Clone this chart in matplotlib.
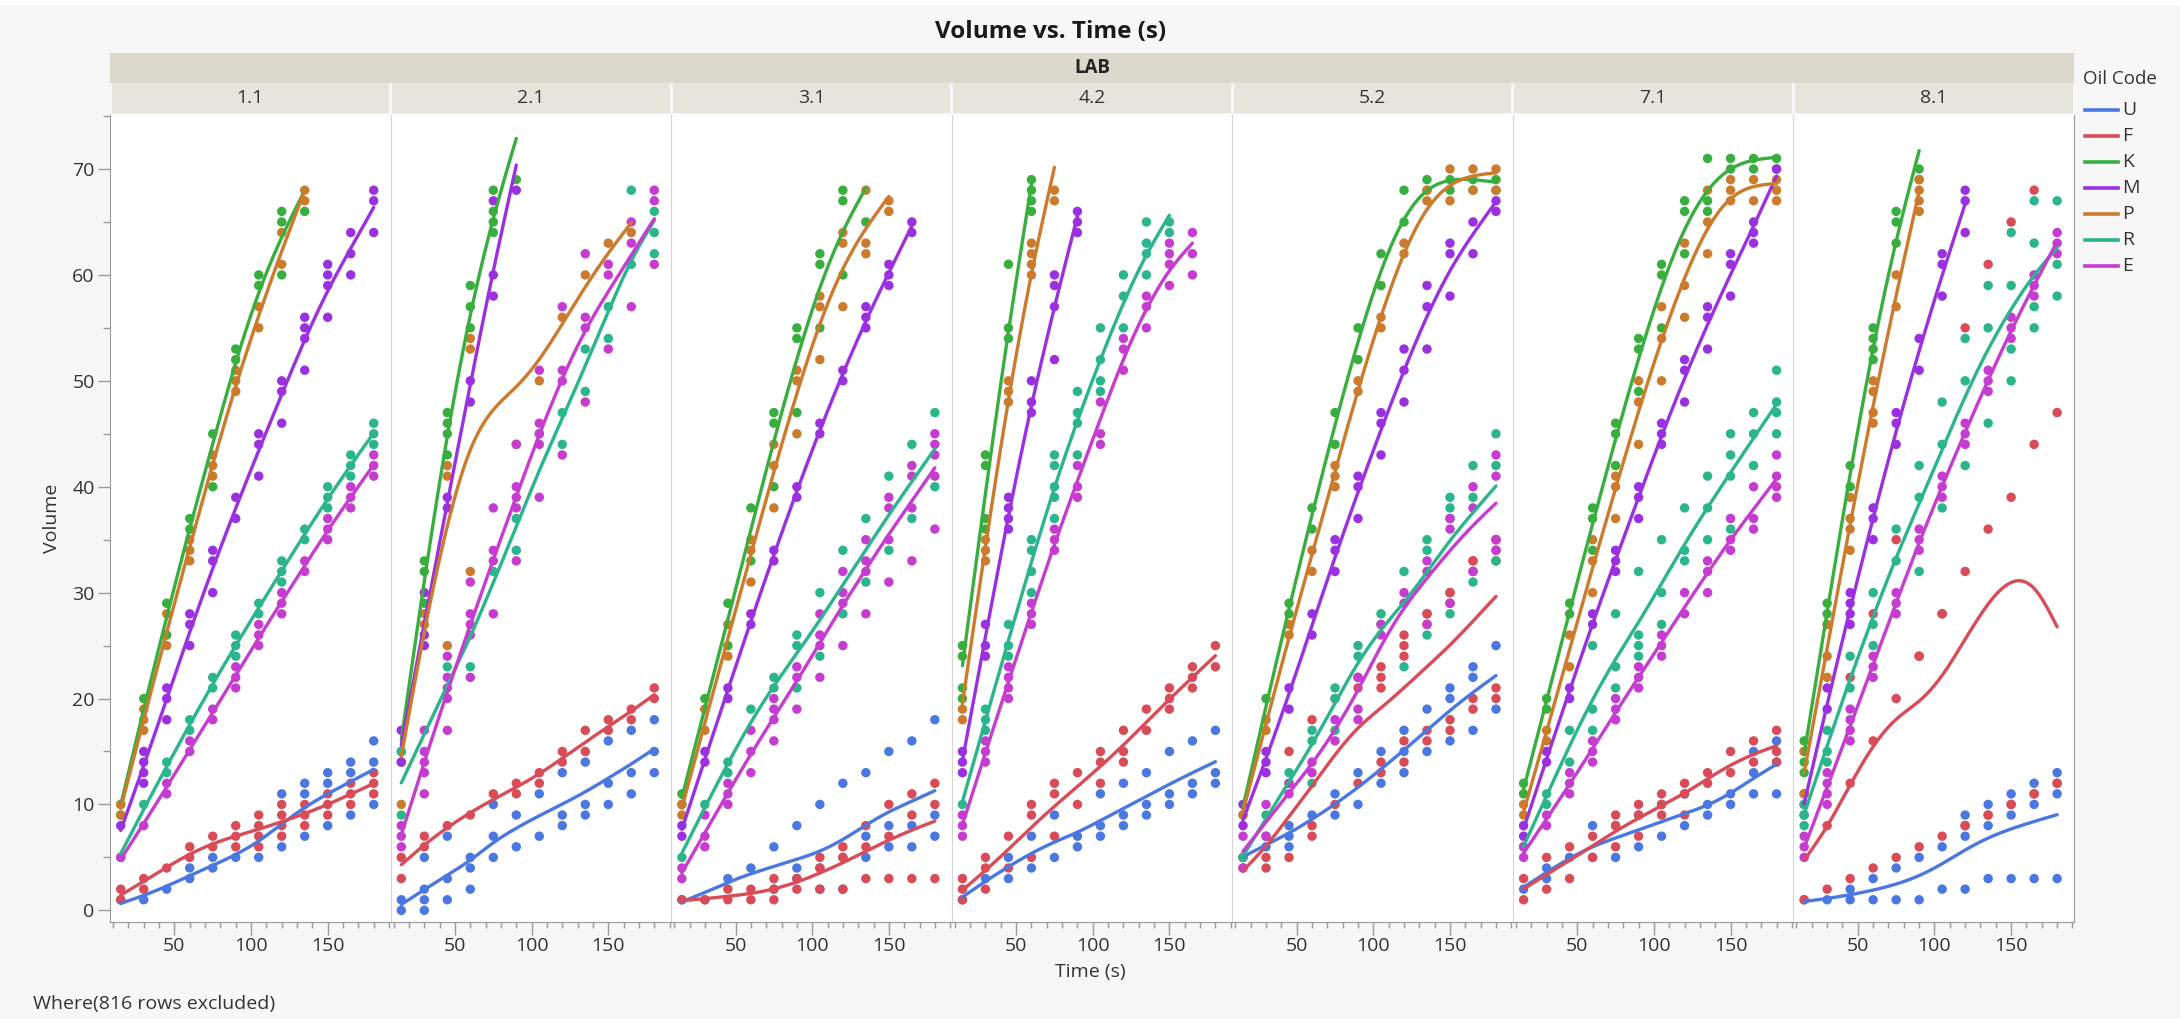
import numpy as np
import matplotlib
matplotlib.use("Agg")
import matplotlib.pyplot as plt
from matplotlib.patches import Rectangle
from matplotlib.lines import Line2D
from matplotlib.ticker import FixedLocator, MultipleLocator

plt.rcParams['font.family'] = ['Open Sans', 'DejaVu Sans']

# time points (s), one inner list of replicate volumes per time point
TIMES = [15, 30, 45, 60, 75, 90, 105, 120, 135, 150, 165, 180]
LABS = ['1.1', '2.1', '3.1', '4.2', '5.2', '7.1', '8.1']
OILS = ['U', 'F', 'K', 'M', 'P', 'R', 'E']
COLORS = ['#4a78e0', '#d94b57', '#38ae3e', '#9b30e0', '#cc7a2c', '#2ab58c', '#c63bd0']

# LAB 1.1
u_11 = [[1], [1], [2], [3, 4], [4, 5], [5], [5], [11, 6], [12, 11, 7], [13, 12, 8], [14, 13, 9], [16, 14, 10]]
f_11 = [[2, 1], [3, 2], [4], [6, 5], [7, 6], [8, 7, 6], [9, 8, 7, 6], [10, 9, 8, 7], [10, 9, 8], [11, 10, 9], [12, 11, 10], [13, 12, 11]]
k_11 = [[10, 9], [20], [29, 26], [37, 36], [45, 40], [53, 52], [60, 59], [66, 65, 60], [66]]
m_11 = [[8], [15, 14, 13, 12], [21, 20, 18], [28, 27, 25], [34, 33, 30], [39, 37], [45, 44, 41], [50, 49, 46], [56, 55, 54, 51], [61, 60, 59, 56], [64, 62, 60], [68, 67, 64]]
p_11 = [[10, 9], [19, 18, 17], [28, 25], [35, 34, 33], [43, 42, 41], [51, 50, 49], [57, 55], [64, 61], [68, 67]]
r_11 = [[5], [10], [14, 13], [18, 17], [22, 21], [26, 25, 24], [29, 28], [33, 32, 31], [36, 35], [40, 39, 38], [43, 42, 41], [46, 45, 44]]
e_11 = [[5], [8], [12, 11], [16, 15], [19, 18], [23, 22, 21], [27, 26, 25], [30, 29, 28], [33, 32], [37, 36, 35], [40, 39, 38], [43, 42, 41]]

# LAB 2.1
u_21 = [[1, 0], [5, 2, 1, 0], [7, 3, 1], [5, 4, 2], [10, 7, 5], [9, 6], [11, 7], [13, 9, 8], [14, 10, 9], [16, 12, 10], [17, 13, 11], [18, 15, 13]]
f_21 = [[5, 3], [7, 6], [8], [9], [11], [12, 11], [13, 12], [15, 14], [17, 15], [18, 17], [19, 18], [21, 20]]
k_21 = [[15, 14], [33, 32, 29], [47, 46, 45, 43], [59, 57, 55], [68, 66, 65, 64], [69]]
m_21 = [[17, 14], [30, 26, 25], [39, 38], [50, 48], [67, 60, 58], [68]]
p_21 = [[10], [28, 27], [42, 41, 25], [54, 53, 32], [], [44], [50], [56], [60], [63], [64]]
r_21 = [[15, 9], [], [23], [23], [32], [37, 34], [45], [47, 44], [53, 49], [57, 54], [68, 61], [66, 64, 62]]
e_21 = [[8, 7, 6], [17, 15, 14, 13, 11], [24, 22, 21, 20, 17], [31, 28, 27, 26, 22], [38, 34, 33, 28], [44, 40, 39, 38, 33], [51, 46, 45, 44, 39], [57, 51, 50, 43], [62, 56, 55, 48], [61, 60, 53], [65, 63, 57], [68, 67, 61]]

# LAB 3.1
u_31 = [[1], [1], [3], [4], [6, 2], [8, 4, 3], [10, 4, 2], [12, 5, 2], [13, 7, 5], [15, 8, 6], [16, 8, 6], [18, 9, 7]]
f_31 = [[1], [1], [2, 1], [2, 1], [3, 2, 1], [3, 2], [5, 4, 2], [6, 5, 2], [8, 6, 3], [10, 7, 3], [11, 9, 3], [12, 10, 3]]
k_31 = [[11, 10], [20, 19], [29, 25], [38, 33], [47, 46, 40], [55, 54, 47], [62, 61, 55], [68, 67, 60], [65]]
m_31 = [[8, 7], [15, 14], [21, 20], [28, 27], [34, 33], [40, 39], [46, 45], [51, 50], [57, 56, 55], [61, 60, 59], [65, 64]]
p_31 = [[10, 9], [19, 17], [27, 24], [35, 34, 31], [44, 42, 38], [51, 50, 45], [58, 57, 52], [64, 63, 57], [68, 63, 62], [67, 66]]
r_31 = [[5], [10], [14, 13], [19], [22, 21], [26, 25, 21], [30, 24], [34, 28], [37, 31], [41, 34], [44, 37], [47, 40]]
e_31 = [[4, 3], [9, 7, 6], [12, 11, 10], [17, 15, 13], [20, 19, 18, 16], [23, 22, 19], [28, 26, 25, 22], [32, 30, 29, 25], [35, 33, 32, 28], [39, 38, 35, 31], [42, 41, 38, 33], [45, 44, 43, 41, 36]]

# LAB 4.2
u_42 = [[1], [3], [5, 3], [7, 4], [9, 5], [7, 6], [11, 8, 7], [12, 9, 8], [13, 10, 9], [15, 11, 10], [16, 12, 11], [17, 13, 12]]
f_42 = [[3, 2, 1], [5, 4, 2], [7, 4], [10, 9, 5], [12, 11, 7], [13, 10], [15, 14, 12], [17, 15, 14], [19, 17], [21, 20, 19], [23, 22, 21], [25, 23]]
k_42 = [[25, 24, 21, 20], [43, 42, 37, 36], [61, 55, 54], [69, 68, 67, 66]]
m_42 = [[15, 14, 13], [27, 25, 24], [39, 38, 37, 36], [50, 48, 47], [60, 59, 57, 52], [66, 65, 64]]
p_42 = [[19, 18], [35, 34, 33], [50, 49, 48], [63, 62, 61, 60], [68, 67]]
r_42 = [[10], [19, 18, 17], [27, 25, 24], [35, 34, 32, 30], [43, 42, 40, 39, 37], [49, 47, 46, 43], [55, 52, 50, 49], [60, 58, 55], [65, 63, 62, 60], [65, 64]]
e_42 = [[9, 8, 7], [16, 15, 14], [23, 22, 21, 20], [29, 28, 27], [36, 35, 34], [42, 40, 39], [48, 45, 44], [54, 53, 51], [58, 57, 55], [63, 62, 61, 59], [64, 62, 60]]

# LAB 5.2
u_52 = [[5], [7, 6], [8, 7, 6], [9], [11, 9], [13, 10], [15, 12], [17, 15, 13], [19, 15], [21, 20, 16], [23, 22, 17], [25, 19]]
f_52 = [[5, 4], [5, 4], [15, 5], [18, 8, 7], [20, 10], [22, 21, 12], [23, 22, 21, 14, 13], [26, 25, 24, 16, 14], [28, 28, 27, 17, 16], [30, 30, 29, 18, 17], [33, 33, 32, 20, 19], [35, 35, 34, 33, 21, 20]]
k_52 = [[9], [20], [29, 28], [38, 36], [47, 44], [55, 52], [62, 59], [68, 65], [69, 68], [69, 68], [69, 68], [69, 68]]
m_52 = [[10, 8], [15, 14, 13], [21, 19], [28, 26], [35, 34, 32], [41, 40, 37], [47, 46, 43], [53, 51, 48], [59, 57, 53], [63, 62, 58], [65, 62], [67, 66]]
p_52 = [[9], [18, 17], [27, 26], [34, 32], [42, 41, 40], [50, 49], [56, 55], [63, 62], [68, 67], [70, 67], [70, 68], [70, 68]]
r_52 = [[5], [9], [13, 12], [17, 16, 12], [21, 20, 17], [25, 24], [28, 27], [32, 23], [35, 34, 26], [39, 38, 37, 28], [42, 39, 31], [45, 42, 33]]
e_52 = [[7, 4], [10, 7], [12, 11], [14, 13], [18, 16], [22, 19, 18], [27, 26], [30, 29], [33, 32, 27], [37, 36, 29], [40, 38, 32], [43, 41, 35, 34]]

# LAB 7.1
u_71 = [[2], [4, 3], [5], [8, 5], [8, 5], [9, 6], [10, 7], [11, 8], [10, 9], [11, 10], [15, 13, 11], [16, 14, 11]]
f_71 = [[3, 1], [5, 2], [6, 3], [7, 5], [9, 8, 6], [10, 9, 7], [11, 10, 9], [12, 11, 9], [13, 12], [15, 13], [16, 14], [17, 15, 14]]
k_71 = [[12, 11], [20, 19], [29, 28], [38, 37, 34], [46, 45, 42], [54, 53, 49], [61, 60, 55], [67, 66, 62], [71, 67, 66], [71, 70], [71, 70], [71, 70]]
m_71 = [[8, 7], [15, 14], [21, 20], [28, 27], [34, 33, 32], [40, 39, 37], [46, 45, 44], [52, 51, 48], [57, 56, 53], [62, 61, 58], [65, 64, 63], [70]]
p_71 = [[10, 9], [17, 16], [26, 23], [35, 33, 30], [41, 40, 37], [50, 48, 44], [57, 54, 50], [63, 59, 56], [68, 65, 62], [69, 68, 67], [69, 67], [69, 68, 67]]
r_71 = [[6], [11, 10], [17, 14], [25, 19, 17], [28, 23, 21], [32, 26, 25, 24], [35, 30, 27], [38, 34, 33], [41, 38, 35], [45, 43, 41, 36], [47, 45, 42], [51, 48, 47, 45]]
e_71 = [[6, 5], [9, 8], [13, 12, 11], [16, 15, 14], [20, 19, 18], [23, 22, 21], [26, 25, 24], [30, 28], [33, 32, 30], [37, 35, 34], [40, 37, 36], [43, 41, 40, 39]]

# LAB 8.1
u_81 = [[1], [1], [2, 1], [3, 1], [4, 1], [5, 1], [6, 2], [9, 7, 2], [10, 8, 3], [11, 9, 3], [12, 10, 3], [13, 11, 3]]
f_81 = [[11, 1], [8, 2], [22, 12, 3], [28, 16, 4], [35, 20, 5], [24, 24, 6], [28, 28, 7], [55, 32, 8, 8], [61, 36, 9, 9], [65, 39, 10, 10], [68, 44, 11, 11], [47, 12, 12]]
k_81 = [[16, 15, 14, 13], [29, 28, 27], [42, 40], [55, 54, 53, 52], [66, 65, 63], [70, 69]]
m_81 = [[10, 9], [21, 19], [30, 29, 28, 27], [38, 37, 35], [47, 46, 44], [54, 51], [62, 61, 58], [68, 67, 64]]
p_81 = [[15, 11], [27, 24, 22], [39, 37, 36, 34], [50, 49, 47, 46], [60, 57], [69, 68, 67, 66]]
r_81 = [[10, 9, 8], [17, 15, 14], [24, 21], [30, 27, 25], [36, 33], [42, 39, 32], [48, 44, 38], [54, 50, 42], [59, 55, 46], [64, 59, 53, 50], [67, 63, 57, 55], [67, 61, 58]]
e_81 = [[7, 6, 5], [13, 12, 11, 10], [19, 18, 17, 16], [24, 23, 22], [30, 29, 28], [36, 35, 34], [41, 40, 39], [46, 45, 44], [51, 50, 49], [56, 55, 54], [60, 59, 58], [64, 63, 62]]

panels = [
    [u_11, f_11, k_11, m_11, p_11, r_11, e_11],
    [u_21, f_21, k_21, m_21, p_21, r_21, e_21],
    [u_31, f_31, k_31, m_31, p_31, r_31, e_31],
    [u_42, f_42, k_42, m_42, p_42, r_42, e_42],
    [u_52, f_52, k_52, m_52, p_52, r_52, e_52],
    [u_71, f_71, k_71, m_71, p_71, r_71, e_71],
    [u_81, f_81, k_81, m_81, p_81, r_81, e_81],
]


def flatten(series):
    t, v = [], []
    for time, vals in zip(TIMES, series):
        t += [time] * len(vals)
        v += vals
    return np.array(t, float), np.array(v, float)


def smoother(t, v, lam=8e3):
    # penalised (smoothing-spline like) fit on a 1 s grid
    grid = np.arange(t.min(), t.max() + 1.0)
    n = len(grid)
    w = np.zeros(n)
    z = np.zeros(n)
    idx = (t - grid[0]).astype(int)
    np.add.at(w, idx, 1.0)
    np.add.at(z, idx, v)
    D = np.diff(np.eye(n), 2, axis=0)
    fit = np.linalg.solve(np.diag(w) + lam * D.T @ D, z)
    return grid, fit


W, H = 2180, 1019
fig = plt.figure(figsize=(W / 100, H / 100), dpi=100, facecolor='#f7f7f7')

plot_left, plot_right, plot_top, plot_bottom = 110, 2074, 115, 922
panel_w = (plot_right - plot_left) / len(LABS)
text_c = '#333333'
axis_c = '#9a9a9a'
fs = 14

fig.add_artist(Rectangle((0, 1 - 5 / H), 1, 5 / H, transform=fig.transFigure,
                         facecolor='white', edgecolor='none'))

# strips
fig.add_artist(Rectangle((plot_left / W, 1 - 83 / H), (plot_right - plot_left) / W, 30 / H,
                         transform=fig.transFigure, facecolor='#dbd9cc', edgecolor='none'))
fig.text((plot_left + plot_right) / 2 / W, 1 - 68 / H, 'LAB', ha='center', va='center',
         fontsize=13.5, fontweight='bold', color='#222222')

for i, lab in enumerate(LABS):
    x0 = plot_left + i * panel_w
    fig.add_artist(Rectangle(((x0 + 1.5) / W, 1 - 113 / H), (panel_w - 3) / W, 30 / H,
                             transform=fig.transFigure, facecolor='#e6e5dc', edgecolor='none'))
    fig.text((x0 + panel_w / 2) / W, 1 - 98 / H, lab, ha='center', va='center',
             fontsize=fs, color=text_c)

    ax = fig.add_axes([x0 / W, 1 - plot_bottom / H, panel_w / W, (plot_bottom - plot_top) / H])
    ax.set_facecolor('white')
    ax.set_xlim(8, 191)
    ax.set_ylim(-1.1, 75.1)

    for oil, series, c in zip(OILS, panels[i], COLORS):
        t, v = flatten(series)
        ax.scatter(t, v, s=46, color=c, edgecolors='none', zorder=2)
    for oil, series, c in zip(OILS, panels[i], COLORS):
        t, v = flatten(series)
        g, fit = smoother(t, v)
        ax.plot(g, fit, color=c, lw=2.4, zorder=3, solid_capstyle='round')

    ax.xaxis.set_major_locator(FixedLocator([50, 100, 150]))
    ax.xaxis.set_minor_locator(MultipleLocator(10))
    ax.tick_params(axis='x', which='major', length=9, width=1, color=axis_c,
                   labelsize=fs, labelcolor=text_c, pad=2)
    ax.tick_params(axis='x', which='minor', length=4, width=1, color=axis_c)
    if i == 0:
        ax.yaxis.set_major_locator(MultipleLocator(10))
        ax.yaxis.set_minor_locator(MultipleLocator(5))
        ax.tick_params(axis='y', which='major', length=9, width=1, color=axis_c,
                       labelsize=fs, labelcolor=text_c, pad=2)
        ax.tick_params(axis='y', which='minor', length=5, width=1, color=axis_c)
    else:
        ax.tick_params(axis='y', which='both', left=False, labelleft=False)

    ax.spines['top'].set_visible(False)
    ax.spines['bottom'].set_color(axis_c)
    ax.spines['left'].set_color(axis_c if i == 0 else '#d6d6d6')
    ax.spines['right'].set_visible(i == len(LABS) - 1)
    ax.spines['right'].set_color(axis_c)

fig.text(1051 / W, 1 - 32 / H, 'Volume vs. Time (s)', ha='center', va='center',
         fontsize=17.5, fontweight='bold', color='#1a1a1a')
fig.text(52 / W, 1 - 518 / H, 'Volume', ha='center', va='center', rotation=90,
         fontsize=fs, color=text_c)
fig.text(1090 / W, 1 - 972 / H, 'Time (s)', ha='center', va='center',
         fontsize=fs, color=text_c)
fig.text(33 / W, 1 - 1004 / H, 'Where(816 rows excluded)', ha='left', va='center',
         fontsize=fs, color=text_c)

# legend
fig.text(2083 / W, 1 - 79 / H, 'Oil Code', ha='left', va='center', fontsize=13.5, color=text_c)
for j, (oil, c) in enumerate(zip(OILS, COLORS)):
    yy = 1 - (110 + j * 26) / H
    fig.add_artist(Line2D([2085 / W, 2118 / W], [yy, yy], transform=fig.transFigure,
                          color=c, lw=2.6))
    fig.text(2122 / W, yy, oil, ha='left', va='center', fontsize=14, color=text_c)

fig.savefig('out.png', dpi=100, facecolor=fig.get_facecolor())
